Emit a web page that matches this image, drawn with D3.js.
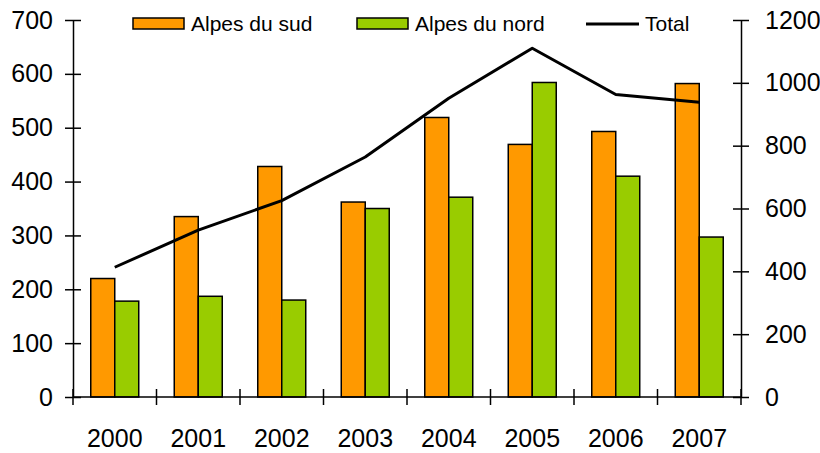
<!DOCTYPE html>
<html>
<head>
<meta charset="utf-8">
<script src="https://cdn.jsdelivr.net/npm/d3@7"></script>
<style>
  body { margin: 0; background: #fff; }
  text { font-family: "Liberation Sans", Arial, sans-serif; fill: #000; }
</style>
</head>
<body>
<div id="chart"></div>
<script>
const width = 820;
const height = 453;

// data
const years = ["2000", "2001", "2002", "2003", "2004", "2005", "2006", "2007"];
const alpesSud = [220, 335, 428, 362, 519, 469, 493, 582];
const alpesNord = [178, 187, 180, 350, 371, 584, 410, 297];
const total = [413, 531, 625, 764, 951, 1110, 963, 938];
const leftTicks = [0, 100, 200, 300, 400, 500, 600, 700];
const rightTicks = [0, 200, 400, 600, 800, 1000, 1200];

const series = ["Alpes du sud", "Alpes du nord"];
const colors = ["#ff9900", "#99cc00"];

const plot = { left: 73, right: 741, top: 20, bottom: 397 };

const svg = d3.select("#chart")
    .append("svg")
    .attr("width", width)
    .attr("height", height);

// scales
const x0 = d3.scaleBand()
    .domain(years)
    .range([plot.left, plot.right])
    .padding(0);

const x1 = d3.scaleBand()
    .domain(series)
    .range([0, x0.bandwidth()])
    .paddingInner(0)
    .paddingOuter(0.74);

const yLeft = d3.scaleLinear().domain([0, 700]).range([plot.bottom, plot.top]);
const yRight = d3.scaleLinear().domain([0, 1200]).range([plot.bottom, plot.top]);

// bars
const rows = years.map((y, i) => ({ year: y, values: [alpesSud[i], alpesNord[i]] }));

svg.append("g")
    .selectAll("g")
    .data(rows)
    .join("g")
    .attr("transform", d => `translate(${x0(d.year)},0)`)
    .selectAll("rect")
    .data(d => d.values.map((v, j) => ({ key: series[j], value: v, idx: j })))
    .join("rect")
    .attr("x", d => x1(d.key))
    .attr("width", x1.bandwidth())
    .attr("y", d => yLeft(d.value))
    .attr("height", d => yLeft(0) - yLeft(d.value))
    .attr("fill", d => colors[d.idx])
    .attr("stroke", "#000")
    .attr("stroke-width", 1.5);

// total line
const line = d3.line()
    .x((d, i) => x0(years[i]) + x0.bandwidth() / 2)
    .y(d => yRight(d));

svg.append("path")
    .datum(total)
    .attr("d", line)
    .attr("fill", "none")
    .attr("stroke", "#000")
    .attr("stroke-width", 3)
    .attr("stroke-linejoin", "round");

// left axis
const axL = svg.append("g")
    .attr("transform", `translate(${plot.left},0)`)
    .call(d3.axisLeft(yLeft).tickValues(leftTicks).tickSize(8).tickPadding(12).tickSizeOuter(0));
axL.selectAll(".tick line").attr("x1", 8);

// right axis
const axR = svg.append("g")
    .attr("transform", `translate(${plot.right},0)`)
    .call(d3.axisRight(yRight).tickValues(rightTicks).tickFormat(d3.format("d"))
        .tickSize(8).tickPadding(16).tickSizeOuter(0));
axR.selectAll(".tick line").attr("x1", -8);

[axL, axR].forEach(ax => {
    ax.select(".domain").attr("stroke", "#000").attr("stroke-width", 1.5);
    ax.selectAll(".tick line").attr("stroke", "#000").attr("stroke-width", 1.5);
    ax.selectAll(".tick text")
        .style("font-size", "25px")
        .style("font-family", "Liberation Sans, Arial, sans-serif");
});

// bottom axis: ticks between categories, labels centred
const xAxis = svg.append("g");
xAxis.append("line")
    .attr("x1", plot.left).attr("x2", plot.right)
    .attr("y1", plot.bottom).attr("y2", plot.bottom)
    .attr("stroke", "#000").attr("stroke-width", 1.5);

const edges = years.map(y => x0(y)).concat([plot.right]);
xAxis.selectAll(".edge")
    .data(edges)
    .join("line")
    .attr("class", "edge")
    .attr("x1", d => d).attr("x2", d => d)
    .attr("y1", plot.bottom - 8).attr("y2", plot.bottom + 8)
    .attr("stroke", "#000").attr("stroke-width", 1.5);

xAxis.selectAll(".yr")
    .data(years)
    .join("text")
    .attr("class", "yr")
    .attr("x", d => x0(d) + x0.bandwidth() / 2)
    .attr("y", 447)
    .attr("text-anchor", "middle")
    .style("font-size", "25px")
    .text(d => d);

// legend
const legend = svg.append("g");
const legendX = [133, 357];
series.forEach((s, i) => {
    legend.append("rect")
        .attr("x", legendX[i]).attr("y", 18)
        .attr("width", 51).attr("height", 11)
        .attr("fill", colors[i])
        .attr("stroke", "#000").attr("stroke-width", 1.5);
    legend.append("text")
        .attr("x", legendX[i] + 58).attr("y", 31)
        .style("font-size", "21px")
        .text(s);
});
legend.append("line")
    .attr("x1", 586).attr("x2", 639)
    .attr("y1", 24).attr("y2", 24)
    .attr("stroke", "#000").attr("stroke-width", 3);
legend.append("text")
    .attr("x", 645).attr("y", 31)
    .style("font-size", "21px")
    .text("Total");
</script>
</body>
</html>
